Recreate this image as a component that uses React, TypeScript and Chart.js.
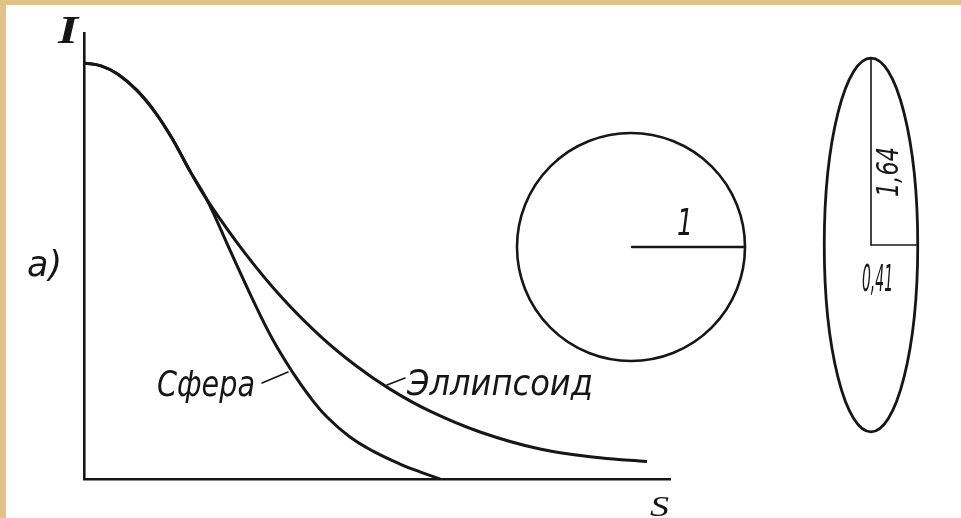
import React, { useEffect, useRef } from "react";
import { Chart, registerables } from "chart.js";

Chart.register(...registerables);

// Scattering intensity I(s) for a sphere and for an elongated ellipsoid
const sphereS = [0, 0.29, 0.58, 0.904, 1.212, 1.502, 1.809, 2.099, 2.491, 2.884, 3.225, 3.567, 3.857, 4.147, 4.539, 4.932, 5.392, 5.734, 6.075];
const sphereI = [1.0, 0.993, 0.973, 0.934, 0.882, 0.819, 0.74, 0.671, 0.55, 0.43, 0.334, 0.255, 0.197, 0.149, 0.101, 0.067, 0.036, 0.017, 0];

const ellipsoidS = [0, 0.29, 0.58, 0.904, 1.212, 1.502, 1.809, 2.099, 2.747, 3.396, 4.027, 4.625, 5.222, 5.904, 6.758, 7.782, 8.805, 9.608];
const ellipsoidI = [1.0, 0.993, 0.973, 0.934, 0.882, 0.819, 0.74, 0.671, 0.543, 0.433, 0.344, 0.274, 0.216, 0.163, 0.113, 0.072, 0.051, 0.042];

const sMax = 10;
const iMax = 1.072;

// Particle shapes (relative sizes)
const sphereRadius = 1;
const ellipsoidSemiMinor = 0.41;
const ellipsoidSemiMajor = 1.64;
const sphereRadiusLabel = "1";
const ellipsoidMajorLabel = "1,64";
const ellipsoidMinorLabel = "0,41";

const seriesLabels = ["Сфера", "Эллипсоид"];
const axisLabelI = "I";
const axisLabelS = "S";
const panelLabel = "a)";

const INK = "#161616";
const PAPER = "#ffffff";
const FRAME = "#e2c285";

function fittedText(
  ctx: CanvasRenderingContext2D,
  text: string,
  x: number,
  y: number,
  width: number,
  font: string,
  angle = 0
) {
  ctx.save();
  ctx.font = font;
  ctx.fillStyle = INK;
  ctx.textBaseline = "alphabetic";
  ctx.textAlign = "left";
  const w = ctx.measureText(text).width;
  ctx.translate(x, y);
  ctx.rotate(angle);
  ctx.scale(width / w, 1);
  ctx.fillText(text, 0, 0);
  ctx.restore();
}

function line(ctx: CanvasRenderingContext2D, x1: number, y1: number, x2: number, y2: number, w: number) {
  ctx.save();
  ctx.strokeStyle = INK;
  ctx.lineWidth = w;
  ctx.lineCap = "round";
  ctx.beginPath();
  ctx.moveTo(x1, y1);
  ctx.lineTo(x2, y2);
  ctx.stroke();
  ctx.restore();
}

const paperPlugin = {
  id: "paper",
  beforeDraw(chart: Chart) {
    const { ctx, width, height } = chart;
    ctx.save();
    ctx.fillStyle = PAPER;
    ctx.fillRect(0, 0, width, height);
    ctx.fillStyle = FRAME;
    ctx.fillRect(0, 0, width, 5);
    ctx.fillRect(0, 0, 6, height);
    ctx.restore();
  },
};

const sketchPlugin = {
  id: "sketch",
  afterDraw(chart: Chart) {
    const { ctx } = chart;
    const unit = 114;

    // axis names and panel letter
    fittedText(ctx, axisLabelI, 58, 43, 20, 'italic bold 40px "Liberation Serif"');
    fittedText(ctx, axisLabelS, 650, 516, 19, 'italic 29px "Liberation Serif"');
    fittedText(ctx, panelLabel, 27, 276, 35, 'italic 36px "DejaVu Sans"');

    // curve captions with leader lines
    fittedText(ctx, seriesLabels[0], 157, 396, 98, 'italic 36px "DejaVu Sans"');
    line(ctx, 262, 383, 288, 372, 1.6);
    fittedText(ctx, seriesLabels[1], 407, 395, 186, 'italic 36px "DejaVu Sans"');
    line(ctx, 387, 385, 405, 378, 1.6);

    // sphere
    const cx = 631;
    const cy = 247;
    const r = sphereRadius * unit;
    ctx.save();
    ctx.strokeStyle = INK;
    ctx.lineWidth = 2.6;
    ctx.beginPath();
    ctx.arc(cx, cy, r, 0, Math.PI * 2);
    ctx.stroke();
    ctx.restore();
    line(ctx, cx + 1, cy, cx + r, cy, 2.4);
    fittedText(ctx, sphereRadiusLabel, 677, 235, 16, 'italic 38px "DejaVu Sans"');

    // ellipsoid cross-section
    const ex = 871;
    const ey = 245;
    const a = ellipsoidSemiMinor * unit;
    const b = ellipsoidSemiMajor * unit;
    ctx.save();
    ctx.strokeStyle = INK;
    ctx.lineWidth = 2.8;
    ctx.beginPath();
    ctx.ellipse(ex, ey, a, b, 0, 0, Math.PI * 2);
    ctx.stroke();
    ctx.restore();
    line(ctx, ex, ey - b, ex, ey, 1.6);
    line(ctx, ex, ey, ex + a, ey, 1.6);
    fittedText(ctx, ellipsoidMajorLabel, 898, 197, 50, 'italic 30px "DejaVu Sans"', -Math.PI / 2);
    fittedText(ctx, ellipsoidMinorLabel, 862, 291, 31, 'italic 38px "DejaVu Sans"');
  },
};

export default function App() {
  const canvasRef = useRef<HTMLCanvasElement | null>(null);

  useEffect(() => {
    const canvas = canvasRef.current;
    if (!canvas) return;
    const toPoints = (xs: number[], ys: number[]) => xs.map((x, i) => ({ x, y: ys[i] }));
    const chart = new Chart(canvas, {
      type: "line",
      data: {
        datasets: [
          {
            label: seriesLabels[0],
            data: toPoints(sphereS, sphereI),
            borderColor: INK,
            borderWidth: 3,
            pointRadius: 0,
            tension: 0.4,
            fill: false,
          },
          {
            label: seriesLabels[1],
            data: toPoints(ellipsoidS, ellipsoidI),
            borderColor: INK,
            borderWidth: 3,
            pointRadius: 0,
            tension: 0.4,
            fill: false,
          },
        ],
      },
      options: {
        responsive: false,
        animation: false,
        events: [],
        layout: { padding: { left: 84, top: 33, right: 291, bottom: 39 } },
        plugins: {
          legend: { display: false },
          tooltip: { enabled: false },
          title: { display: false },
        },
        scales: {
          x: {
            type: "linear",
            min: 0,
            max: sMax,
            grid: { display: false, drawTicks: false },
            ticks: { display: false },
            border: { display: true, color: INK, width: 2.6 },
          },
          y: {
            type: "linear",
            min: 0,
            max: iMax,
            grid: { display: false, drawTicks: false },
            ticks: { display: false },
            border: { display: true, color: INK, width: 2.6 },
          },
        },
      },
      plugins: [paperPlugin, sketchPlugin],
    });
    return () => chart.destroy();
  }, []);

  return (
    <div style={{ position: "absolute", left: 0, top: 0, width: 961, height: 518 }}>
      <canvas ref={canvasRef} width={961} height={518} style={{ display: "block" }} />
    </div>
  );
}
